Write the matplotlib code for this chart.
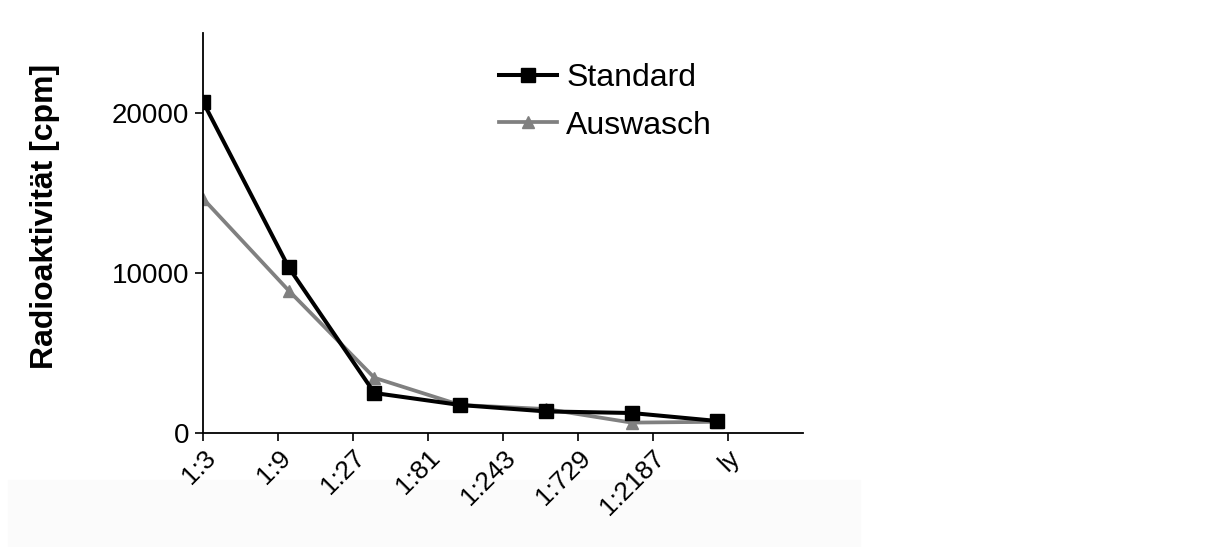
import matplotlib
matplotlib.use("Agg")
import matplotlib.pyplot as plt
import numpy as np
from matplotlib.patches import Rectangle

plt.rcParams["font.family"] = ["Liberation Sans", "DejaVu Sans"]

tick_labels = ["1:3", "1:9", "1:27", "1:81", "1:243", "1:729", "1:2187", "ly"]
standard = [20700, 10350, 2500, 1750, 1350, 1250, 750]
auswasch = [14650, 8900, 3450, 1750, 1500, 650, 700]
y_ticks = [0, 10000, 20000]

fig = plt.figure(figsize=(12.16, 5.47), dpi=100)

# faint background panel as in the original screenshot
fig.patches.append(Rectangle((8 / 1216, 0), 852 / 1216, 67 / 547,
                             transform=fig.transFigure, color="#fbfbfb", zorder=-5))

ax = fig.add_axes([203 / 1216, 114 / 547, 600 / 1216, 400 / 547])
ax.set_facecolor("none")

# data points sit on a 7-slot category axis, labels on an 8-slot one
x_pos = np.arange(len(standard)) * len(tick_labels) / len(standard)

ax.plot(x_pos, standard, color="black", lw=2.9, marker="s", ms=10,
        label="Standard", zorder=3)
ax.plot(x_pos, auswasch, color="#808080", lw=2.7, marker="^", ms=9,
        label="Auswasch", zorder=2)

ax.set_xlim(0, len(tick_labels))
ax.set_ylim(0, 25000)
ax.set_xticks(np.arange(len(tick_labels)))
ax.set_xticklabels(tick_labels, rotation=45, ha="right", va="top",
                   rotation_mode="anchor", fontsize=19)
ax.set_yticks(y_ticks)
ax.set_yticklabels([str(v) for v in y_ticks], fontsize=20)
ax.tick_params(axis="both", direction="out", length=6, width=1.2, color="black")
ax.tick_params(axis="y", pad=4)
ax.tick_params(axis="x", pad=3)

for side in ("top", "right"):
    ax.spines[side].set_visible(False)
for side in ("left", "bottom"):
    ax.spines[side].set_linewidth(1.3)

fig.text(45 / 1216, 1 - 216 / 547, "Radioaktivität [cpm]", rotation=90,
         ha="center", va="center", fontsize=23, fontweight="bold")

ax.legend(loc="upper left", bbox_to_anchor=(499 / 1216, 1 - 63 / 547),
          bbox_transform=fig.transFigure, frameon=False, fontsize=23,
          handlelength=1.8, handletextpad=0.3, labelspacing=0.55,
          borderpad=0, borderaxespad=0)

fig.savefig("out.png", dpi=100)
